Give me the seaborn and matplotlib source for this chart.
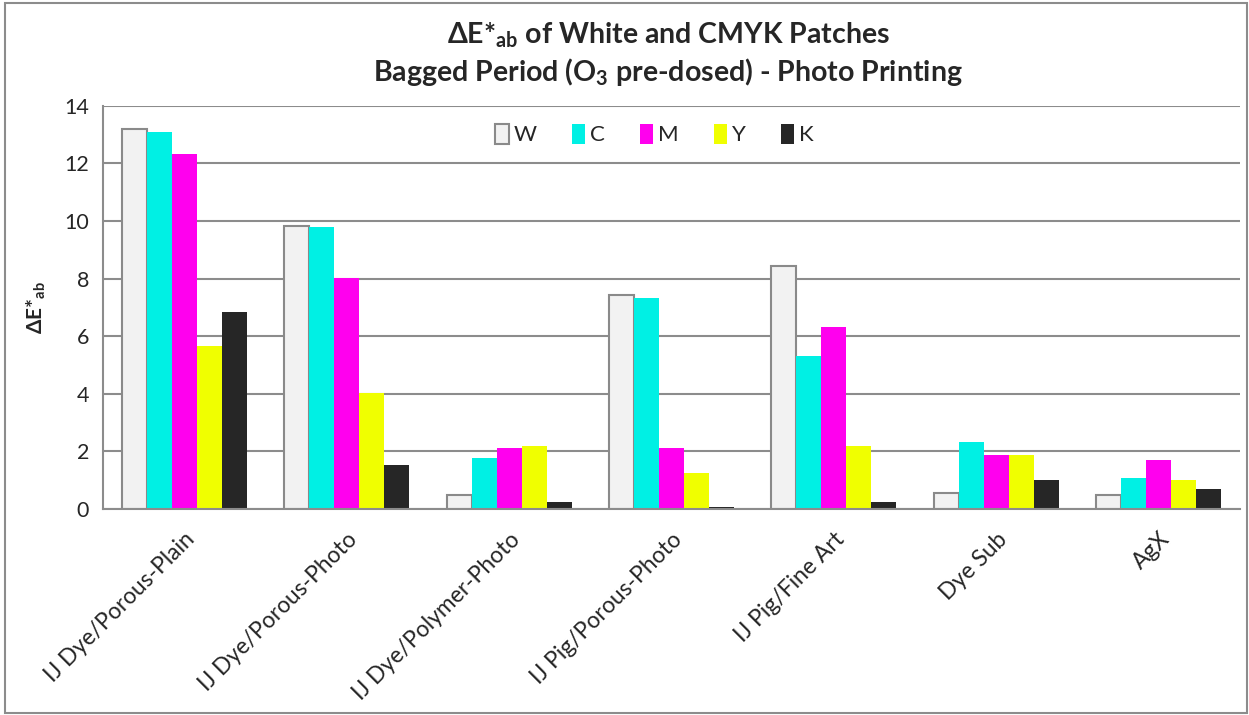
import matplotlib
matplotlib.use("Agg")
import matplotlib.pyplot as plt
import seaborn as sns
import pandas as pd
import numpy as np
from matplotlib.patches import Rectangle, Patch

categories = ["IJ Dye/Porous-Plain", "IJ Dye/Porous-Photo", "IJ Dye/Polymer-Photo",
              "IJ Pig/Porous-Photo", "IJ Pig/Fine Art", "Dye Sub", "AgX"]
series = ["W", "C", "M", "Y", "K"]
W = [13.2, 9.83, 0.49, 7.43, 8.44, 0.55, 0.49]
C = [13.1, 9.80, 1.77, 7.33, 5.31, 2.33, 1.07]
M = [12.33, 8.02, 2.12, 2.12, 6.32, 1.87, 1.70]
Y = [5.66, 4.03, 2.19, 1.25, 2.19, 1.87, 1.00]
K = [6.84, 1.53, 0.24, 0.07, 0.24, 1.00, 0.70]
yticks = [0, 2, 4, 6, 8, 10, 12, 14]

colors = {"W": "#F2F2F2", "C": "#00F0E4", "M": "#FF00EE", "Y": "#F0FF00", "K": "#262626"}

rows = []
for s, vals in zip(series, [W, C, M, Y, K]):
    for c, v in zip(categories, vals):
        rows.append({"cat": c, "series": s, "val": v})
df = pd.DataFrame(rows)

sns.set_style("white")
FONT = ["Lato", "DejaVu Sans"]
plt.rcParams["font.family"] = FONT
plt.rcParams["mathtext.fontset"] = "custom"
plt.rcParams["mathtext.rm"] = "Lato"
plt.rcParams["mathtext.bf"] = "Lato:bold"

fig = plt.figure(figsize=(12.49, 7.15), dpi=100)
ax = fig.add_axes([0.0825, 0.288, 0.9103, 0.564])

sns.barplot(data=df, x="cat", y="val", hue="series", hue_order=series,
            palette=colors, order=categories, width=0.77, gap=0,
            saturation=1, ax=ax, legend=False)

for p in ax.containers[0]:
    p.set_edgecolor("#8A8A8A")
    p.set_linewidth(1.5)
for cont in ax.containers[1:]:
    for p in cont:
        p.set_linewidth(0)

ax.set_ylim(0, 14)
ax.set_xlim(-0.5, len(categories) - 0.5)
ax.set_yticks(yticks)
ax.set_yticklabels([str(t) for t in yticks], fontsize=15.5)
ax.yaxis.grid(True, color="#8C8C8C", linewidth=1.5)
ax.set_axisbelow(True)
ax.tick_params(axis="y", length=0, pad=10)

ax.set_xticks(range(len(categories)))
ax.set_xticklabels(categories, rotation=45, ha="right", rotation_mode="anchor", fontsize=16.5)
ax.tick_params(axis="x", which="major", length=0, pad=14)
ax.set_xticks(np.arange(-0.5, len(categories), 1.0), minor=True)
ax.tick_params(axis="x", which="minor", length=8, width=1.5, color="#8C8C8C", direction="out")
ax.set_xlabel("")

for side in ["top", "right"]:
    ax.spines[side].set_visible(False)
for side in ["left", "bottom"]:
    ax.spines[side].set_color("#8C8C8C")
    ax.spines[side].set_linewidth(1.5)

ax.set_ylabel(r"ΔE*$_{\mathbf{ab}}$", fontsize=15, fontweight="bold", labelpad=12)

handles = [Patch(facecolor=colors[s], edgecolor="#8A8A8A" if s == "W" else colors[s],
                 linewidth=1.5 if s == "W" else 0) for s in series]
ax.legend(handles, series, ncol=5, loc="upper center", bbox_to_anchor=(0.485, 1.005),
          frameon=False, fontsize=16, handlelength=0.6, handleheight=1.0,
          handletextpad=0.2, columnspacing=1.6)

fig.text(0.535, 0.951, r"ΔE*$_{\mathbf{ab}}$ of White and CMYK Patches",
         ha="center", va="center", fontsize=20.5, fontweight="bold")
fig.text(0.535, 0.899, r"Bagged Period (O$_{\mathbf{3}}$ pre-dosed) - Photo Printing",
         ha="center", va="center", fontsize=20.5, fontweight="bold")

fig.patches.append(Rectangle((0.004, 0.003), 0.994, 0.993, transform=fig.transFigure,
                             fill=False, edgecolor="#8C8C8C", linewidth=1.5))

fig.savefig("out.png", dpi=100)
